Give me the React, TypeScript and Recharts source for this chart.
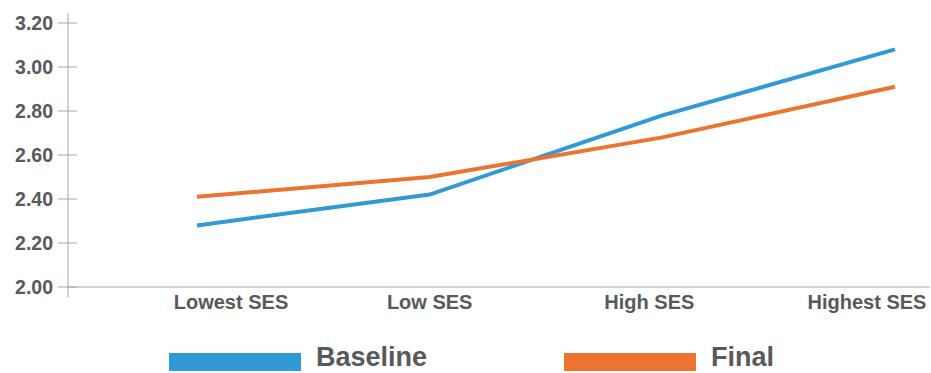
import { LineChart, Line, XAxis, YAxis, ReferenceLine, Legend } from "recharts";

const categories = ["Lowest SES", "Low SES", "High SES", "Highest SES"];
const baseline = [2.28, 2.42, 2.78, 3.08];
const final = [2.41, 2.5, 2.68, 2.91];
const yTicks = [2.0, 2.2, 2.4, 2.6, 2.8, 3.0, 3.2];

const data = categories.map((name, i) => ({ name, baseline: baseline[i], final: final[i] }));

const textColor = "#595959";
const axisColor = "#a6a6a6";
const font = "'Liberation Sans', Arial, sans-serif";

// labels in the original don't sit exactly under the points
const labelShift = [34, 0, -13, -28];

const YTick = ({ x, y, payload }: any) => (
  <g>
    <line x1={x - 10} x2={x + 9} y1={y} y2={y} stroke={axisColor} strokeWidth={1} />
    <text
      x={x - 15}
      y={y}
      dy="0.36em"
      textAnchor="end"
      fill={textColor}
      fontSize={19.5}
      fontWeight="bold"
      fontFamily={font}
    >
      {Number(payload.value).toFixed(2)}
    </text>
  </g>
);

const XTick = ({ x, y, payload, index }: any) => (
  <text
    x={x + (labelShift[index] || 0)}
    y={y + 12}
    textAnchor="middle"
    fill={textColor}
    fontSize={20}
    fontWeight="bold"
    fontFamily={font}
  >
    {payload.value}
  </text>
);

const LegendContent = ({ payload }: any) => (
  <div style={{ display: "flex", alignItems: "flex-start", paddingLeft: 169, paddingTop: 15, fontFamily: font }}>
    {(payload || []).map((p: any, i: number) => (
      <div key={i} style={{ display: "flex", alignItems: "flex-start", marginRight: i === 0 ? 137 : 0 }}>
        <span style={{ display: "inline-block", width: 132, height: 18, marginTop: 11, background: p.color }} />
        <span style={{ marginLeft: 15, fontSize: 27, fontWeight: "bold", color: textColor, lineHeight: "normal" }}>
          {p.value}
        </span>
      </div>
    ))}
  </div>
);

export default function App() {
  return (
    <div style={{ position: "absolute", left: 0, top: 0, background: "#fff" }}>
      <LineChart width={931} height={373} data={data} margin={{ top: 13, right: 1, bottom: 0, left: 0 }}>
        <XAxis
          dataKey="name"
          axisLine={false}
          tickLine={false}
          tickSize={0}
          tickMargin={0}
          height={30}
          padding={{ left: 129, right: 35 }}
          tick={<XTick />}
          interval={0}
        />
        <YAxis
          domain={[2, 3.2]}
          ticks={yTicks}
          width={68}
          axisLine={{ stroke: axisColor, strokeWidth: 1 }}
          tickLine={false}
          tickSize={0}
          tickMargin={0}
          padding={{ top: 10, bottom: 10 }}
          tick={<YTick />}
          interval={0}
        />
        <ReferenceLine y={2} stroke={axisColor} strokeWidth={1} ifOverflow="extendDomain" />
        <Legend verticalAlign="bottom" height={46} content={<LegendContent />} />
        <Line
          type="linear"
          dataKey="baseline"
          name="Baseline"
          stroke="#2f9ad6"
          strokeWidth={4}
          dot={false}
          isAnimationActive={false}
        />
        <Line
          type="linear"
          dataKey="final"
          name="Final"
          stroke="#ec7430"
          strokeWidth={4}
          dot={false}
          isAnimationActive={false}
        />
      </LineChart>
    </div>
  );
}
